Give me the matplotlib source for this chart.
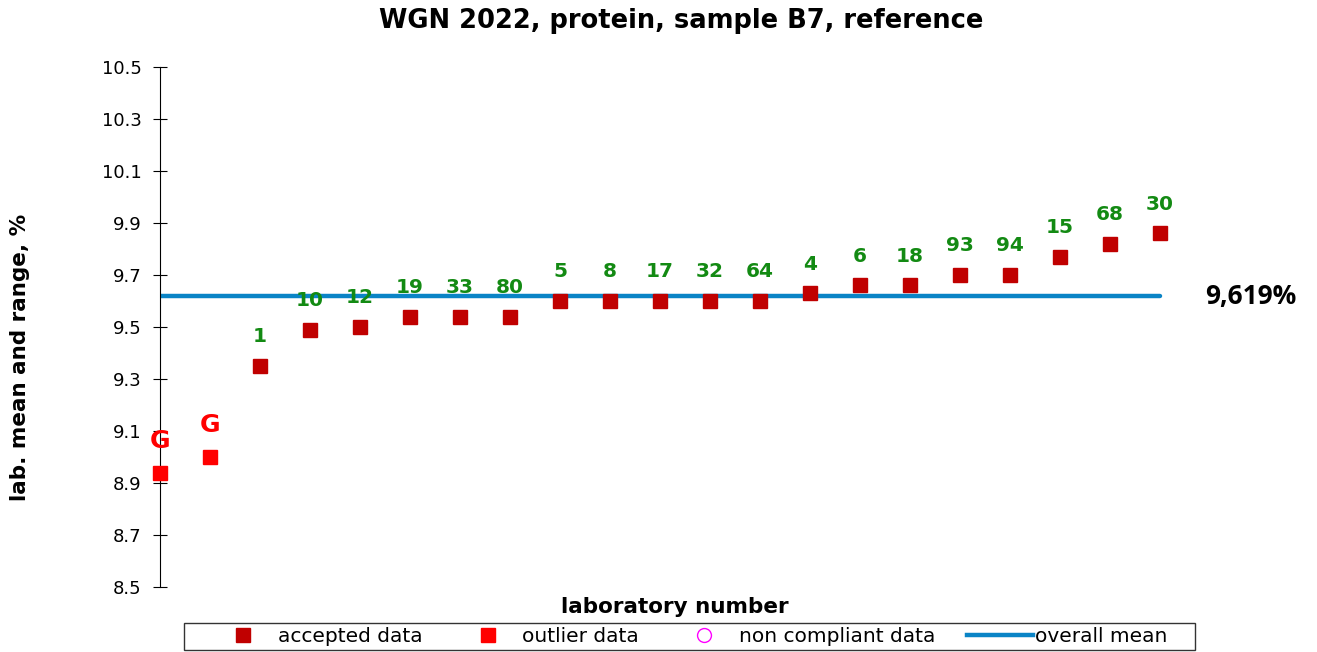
import numpy as np
import matplotlib
matplotlib.use("Agg")
from matplotlib import pyplot as plt
from matplotlib.lines import Line2D
from matplotlib.patches import Rectangle

plt.rcParams['font.family'] = ['DejaVu Sans']

# data
labs = ["G", "G", "1", "10", "12", "19", "33", "80", "5", "8", "17", "32", "64",
        "4", "6", "18", "93", "94", "15", "68", "30"]
values = [8.94, 9.00, 9.35, 9.49, 9.50, 9.54, 9.54, 9.54, 9.60, 9.60, 9.60, 9.60, 9.60,
          9.63, 9.66, 9.66, 9.70, 9.70, 9.77, 9.82, 9.86]
outlier = [True, True] + [False] * 19
overall_mean = 9.619

W, H = 1317, 652
fig = plt.figure(figsize=(W / 100, H / 100), dpi=100)
ax = fig.add_axes([160 / W, 1 - 587 / H, 1050 / W, 520 / H])

x = np.arange(len(values))
vals = np.array(values)
out = np.array(outlier)

ax.plot(x[~out], vals[~out], 's', color='#C00000', markersize=10, zorder=3, clip_on=False)
ax.plot(x[out], vals[out], 's', color='#FF0000', markersize=10, zorder=3, clip_on=False)
ax.plot([x[0], x[-1]], [overall_mean, overall_mean], color='#0A84C6', lw=3.2,
        solid_capstyle='round', zorder=2)

for xi, v, lab, o in zip(x, vals, labs, out):
    if o:
        ax.annotate(lab, (xi, v), xytext=(0, 18), textcoords='offset points',
                    ha='center', va='baseline', color='#FF0000', fontsize=18, fontweight='bold')
    else:
        ax.annotate(lab, (xi, v), xytext=(0, 17), textcoords='offset points',
                    ha='center', va='baseline', color='#138A13', fontsize=14.5, fontweight='bold')

ax.text(x[-1] + 0.9, overall_mean, "9,619%", ha='left', va='center',
        fontsize=19, fontweight='bold', family=['Open Sans', 'DejaVu Sans'])

ax.set_xlim(0, 21)
ax.set_ylim(8.5, 10.5)
yt = np.arange(8.5, 10.51, 0.2)
ax.set_yticks(yt)
ax.set_yticklabels([f"{t:.1f}" for t in yt])
ax.set_xticks([])
for s in ['top', 'right', 'bottom']:
    ax.spines[s].set_visible(False)
ax.tick_params(axis='y', direction='inout', length=10.5, labelsize=13, pad=8)

fig.text(681 / W, 1 - 21 / H, "WGN 2022, protein, sample B7, reference",
         ha='center', va='center', fontsize=18.5, fontweight='bold')
fig.text(20 / W, 1 - 357 / H, "lab. mean and range, %", rotation=90,
         ha='center', va='center', fontsize=15.5, fontweight='bold')
fig.text(675 / W, 1 - 607 / H, "laboratory number",
         ha='center', va='center', fontsize=15.5, fontweight='bold')

handles = [
    Line2D([], [], ls='none', marker='s', color='#C00000', markersize=10),
    Line2D([], [], ls='none', marker='s', color='#FF0000', markersize=10),
    Line2D([], [], ls='none', marker='o', mfc='none', mec='#FF00FF', markersize=10),
    Line2D([], [], color='#0A84C6', lw=3.2),
]
fig.legend(handles, ["accepted data", "outlier data", "non compliant data", "overall mean"],
           loc='center', bbox_to_anchor=(689 / W, 1 - 637 / H), ncol=4,
           fontsize=14.5, frameon=False, borderpad=0, handletextpad=0.1,
           columnspacing=1.6, handlelength=3.25)
fig.patches.append(Rectangle((184 / W, 1 - 650 / H), 1011 / W, 27 / H, transform=fig.transFigure,
                             fill=False, edgecolor='#333333', lw=1.0))

fig.savefig("out.png", dpi=100)
